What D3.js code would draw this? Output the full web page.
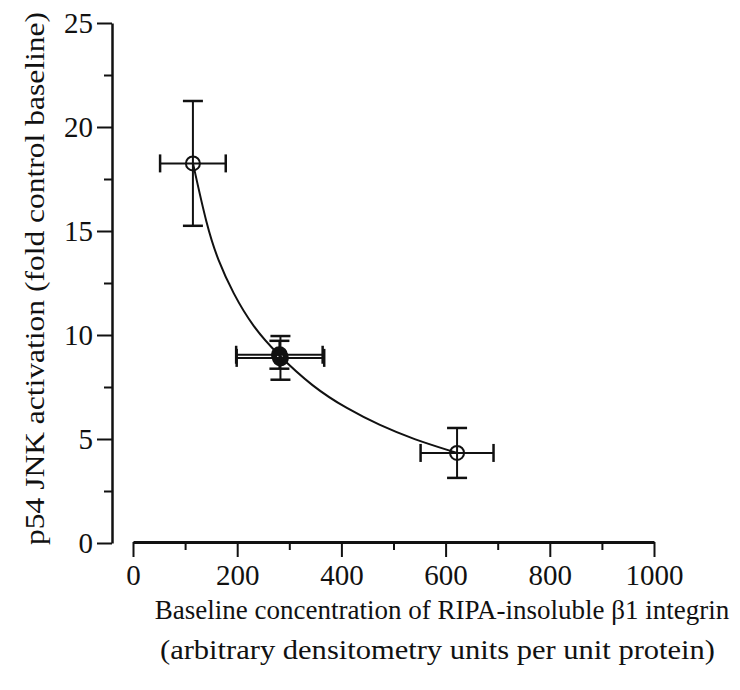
<!DOCTYPE html>
<html>
<head>
<meta charset="utf-8">
<script src="https://cdn.jsdelivr.net/npm/d3@7"></script>
<style>
  body { margin: 0; background: #fff; }
  svg text { font-family: "Liberation Serif", "Times New Roman", serif; fill: #111; }
  .axis path, .axis line { stroke: #111; }
</style>
</head>
<body>
<svg width="740" height="690"></svg>
<script>
// data
let xTicks = [0, 200, 400, 600, 800, 1000];
let xMinor = [100, 300, 500, 700, 900];
let yTicks = [0, 5, 10, 15, 20, 25];
let yMinor = [2.5, 7.5, 12.5, 17.5, 22.5];

// points: x, y, x error, y error
let ptX   = [115, 281, 283, 622];
let ptY   = [18.25, 9.05, 8.9, 4.33];
let ptXe  = [63, 83, 84, 70];
let ptYe  = [3.0, 0.67, 1.05, 1.2];
let ptFill = [false, true, true, false];

// fitted curve, traced
let curveX = [115, 142, 163, 192, 230, 276, 345, 411, 474, 537, 622];
let curveY = [18.27, 15.2, 13.6, 12.0, 10.4, 9.1, 7.5, 6.45, 5.65, 5.0, 4.33];

let xLabel1 = 'Baseline concentration of RIPA-insoluble \u03b21 integrin';
let xLabel2 = '(arbitrary densitometry units per unit protein)';
let yLabel = 'p54 JNK activation (fold control baseline)';

let svg = d3.select('svg');

let x = d3.scaleLinear().domain([0, 1000]).range([133, 654]);
let y = d3.scaleLinear().domain([0, 25]).range([543, 23]);

// y axis
let yAxisG = svg.append('g')
  .attr('class', 'axis')
  .attr('transform', 'translate(112,0)')
  .call(d3.axisLeft(y).tickValues(yTicks).tickSize(15).tickSizeOuter(0).tickPadding(4).tickFormat(d3.format('d')));
yAxisG.select('.domain').attr('stroke-width', 2.5);
yAxisG.selectAll('.tick line').attr('stroke-width', 2);
yAxisG.selectAll('.tick text').style('font-size', '29px').attr('dy', '0.34em');

svg.append('g')
  .attr('class', 'axis')
  .attr('transform', 'translate(112,0)')
  .call(d3.axisLeft(y).tickValues(yMinor).tickSize(8).tickFormat(''))
  .call(g => g.select('.domain').remove())
  .selectAll('.tick line').attr('stroke-width', 2);

// x axis
let xAxisG = svg.append('g')
  .attr('class', 'axis')
  .attr('transform', 'translate(0,542)')
  .call(d3.axisBottom(x).tickValues(xTicks).tickSize(15).tickSizeOuter(0).tickPadding(7).tickFormat(d3.format('d')));
xAxisG.select('.domain').attr('stroke-width', 3);
xAxisG.selectAll('.tick line').attr('stroke-width', 2);
xAxisG.selectAll('.tick text').style('font-size', '29px');

svg.append('g')
  .attr('class', 'axis')
  .attr('transform', 'translate(0,542)')
  .call(d3.axisBottom(x).tickValues(xMinor).tickSize(8).tickFormat(''))
  .call(g => g.select('.domain').remove())
  .selectAll('.tick line').attr('stroke-width', 2);

// curve
let line = d3.line()
  .x(d => x(d[0]))
  .y(d => y(d[1]))
  .curve(d3.curveBasis);

svg.append('path')
  .datum(d3.zip(curveX, curveY))
  .attr('d', line)
  .attr('fill', 'none')
  .attr('stroke', '#111')
  .attr('stroke-width', 2);

// error bars + markers
let pts = ptX.map((d, i) => ({x: d, y: ptY[i], xe: ptXe[i], ye: ptYe[i], fill: ptFill[i]}));

let pg = svg.append('g').selectAll('g.pt')
  .data(pts)
  .enter()
  .append('g')
  .attr('class', 'pt');

pg.append('line')
  .attr('x1', d => x(d.x - d.xe)).attr('x2', d => x(d.x + d.xe))
  .attr('y1', d => y(d.y)).attr('y2', d => y(d.y))
  .attr('stroke', '#111').attr('stroke-width', 2);
pg.append('line')
  .attr('x1', d => x(d.x)).attr('x2', d => x(d.x))
  .attr('y1', d => y(d.y - d.ye)).attr('y2', d => y(d.y + d.ye))
  .attr('stroke', '#111').attr('stroke-width', 2);

// caps
[-1, 1].forEach(s => {
  pg.append('line')
    .attr('x1', d => x(d.x + s * d.xe)).attr('x2', d => x(d.x + s * d.xe))
    .attr('y1', d => y(d.y) - 9).attr('y2', d => y(d.y) + 9)
    .attr('stroke', '#111').attr('stroke-width', 2.5);
  pg.append('line')
    .attr('x1', d => x(d.x) - 10).attr('x2', d => x(d.x) + 10)
    .attr('y1', d => y(d.y + s * d.ye)).attr('y2', d => y(d.y + s * d.ye))
    .attr('stroke', '#111').attr('stroke-width', 2.5);
});

pg.append('circle')
  .attr('cx', d => x(d.x))
  .attr('cy', d => y(d.y))
  .attr('r', d => d.fill ? 6 : 7)
  .attr('fill', 'none')
  .attr('stroke', '#111')
  .attr('stroke-width', d => d.fill ? 5 : 2);

// axis titles
svg.append('text')
  .attr('x', 442).attr('y', 619)
  .attr('text-anchor', 'middle')
  .style('font-size', '27px')
  .text(xLabel1);
svg.append('text')
  .attr('x', 160).attr('y', 659)
  .attr('textLength', 555)
  .attr('lengthAdjust', 'spacingAndGlyphs')
  .style('font-size', '28px')
  .text(xLabel2);

svg.append('text')
  .attr('transform', 'translate(44,545) rotate(-90)')
  .attr('textLength', 533)
  .attr('lengthAdjust', 'spacingAndGlyphs')
  .style('font-size', '28px')
  .text(yLabel);
</script>
</body>
</html>
